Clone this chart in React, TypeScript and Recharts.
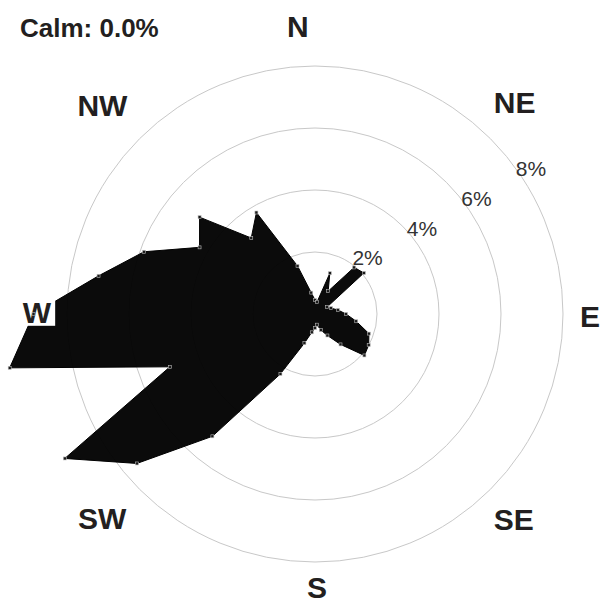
import React from 'react';
import { RadarChart, Radar, PolarGrid, PolarAngleAxis, PolarRadiusAxis } from 'recharts';

// Wind direction bearings (degrees clockwise from north)
const bearings = [0, 10, 20, 30, 40, 50, 60, 70, 80, 90, 100, 110, 120, 130, 140, 150, 160, 170,
  180, 190, 200, 210, 220, 230, 240, 250, 260, 270, 280, 290, 300, 310, 320, 330, 340, 350];

// Frequency (%) per direction
const frequencies = [0.45, 0.4, 1.4, 0.85, 1.96, 2.06, 0.45, 0.55, 0.75, 1.0, 1.35, 1.85, 2.0, 2.08,
  1.28, 0.8, 0.55, 0.35, 0.45, 0.6, 1.0, 2.23, 5.15, 7.5, 9.32, 4.98, 10.0, 9.08, 7.09, 5.87,
  4.3, 4.86, 3.2, 3.78, 1.65, 0.7];

const radiusTicks = [2, 4, 6, 8];
const compassBearings = [0, 45, 90, 135, 180, 225, 270, 315];
const compassLabels = ['N', 'NE', 'E', 'SE', 'S', 'SW', 'W', 'NW'];
const calmLabel = 'Calm: 0.0%';

const data = bearings.map((b, i) => ({ bearing: b, freq: frequencies[i] }));

const W = 611;
const H = 604;
const CX = 315;
const CY = 314;
const OUTER = 248;
const FONT = '"Liberation Sans", Arial, Helvetica, sans-serif';
const TEXT = '#231f20';

// label placement (polar: bearing in degrees, distance in px from centre)
const compassPlacement: Record<string, { b: number; d: number }> = {
  N: { b: -3.4, d: 288 },
  NE: { b: 43.3, d: 291 },
  E: { b: 90.4, d: 275 },
  SE: { b: 136, d: 286 },
  S: { b: 179.6, d: 273 },
  SW: { b: 226.2, d: 295 },
  W: { b: 270.4, d: 278 },
  NW: { b: 314.5, d: 298 },
};

function CompassTick(props: any) {
  const v = props?.payload?.value;
  const idx = compassBearings.indexOf(v);
  if (idx < 0) return null;
  const label = compassLabels[idx];
  const place = compassPlacement[label];
  const rad = (place.b * Math.PI) / 180;
  const x = CX + Math.sin(rad) * place.d;
  const y = CY - Math.cos(rad) * place.d;
  const fs = 30;
  const w = label.length === 1 ? fs * 0.944 : fs * 1.64;
  const capH = fs * 0.716;
  return (
    <g>
      <rect x={x - w / 2 - 4} y={y - capH / 2 - 3} width={w + 8} height={capH + 6} fill="#fff" />
      <text
        x={x}
        y={y + capH / 2}
        textAnchor="middle"
        fontFamily={FONT}
        fontWeight="bold"
        fontSize={fs}
        fill={TEXT}
      >
        {label}
      </text>
    </g>
  );
}

function RadiusTick(props: any) {
  const { x, y, payload } = props;
  return (
    <text x={x - 17} y={y - 19} textAnchor="start" fontFamily={FONT} fontSize={21} fill="#333">
      {`${payload.value}%`}
    </text>
  );
}

function SquareDot(props: any) {
  const { cx, cy, index } = props;
  if (cx == null || cy == null) return <g key={`d-${index}`} />;
  return (
    <rect
      key={`d-${index}`}
      x={cx - 1.5}
      y={cy - 1.5}
      width={3}
      height={3}
      fill="#1a1a1a"
      stroke="#bdbdbd"
      strokeWidth={0.6}
    />
  );
}

export default function App() {
  return (
    <div style={{ position: 'absolute', left: 0, top: 0, width: W, height: H, background: '#fff' }}>
      <RadarChart
        width={W}
        height={H}
        cx={CX}
        cy={CY}
        outerRadius={OUTER}
        data={data}
        margin={{ top: 0, right: 0, bottom: 0, left: 0 }}
      >
        <PolarGrid gridType="circle" radialLines={false} stroke="#c8c8c8" strokeWidth={1} />
        <Radar
          dataKey="freq"
          stroke="#000"
          strokeWidth={1}
          fill="#000"
          fillOpacity={0.955}
          dot={SquareDot}
          isAnimationActive={false}
        />
        <PolarRadiusAxis
          type="number"
          angle={28.6}
          domain={[0, 8]}
          ticks={radiusTicks}
          allowDataOverflow
          axisLine={false}
          tickLine={false}
          tick={RadiusTick}
        />
        <PolarAngleAxis
          dataKey="bearing"
          type="number"
          domain={[0, 360]}
          ticks={compassBearings}
          axisLine={false}
          tickLine={false}
          tick={CompassTick}
        />
      </RadarChart>
      <svg
        width={W}
        height={H}
        style={{ position: 'absolute', left: 0, top: 0, pointerEvents: 'none' }}
      >
        <text x={20} y={37} fontFamily={FONT} fontWeight="bold" fontSize={26} fill={TEXT}>
          {calmLabel}
        </text>
      </svg>
    </div>
  );
}
